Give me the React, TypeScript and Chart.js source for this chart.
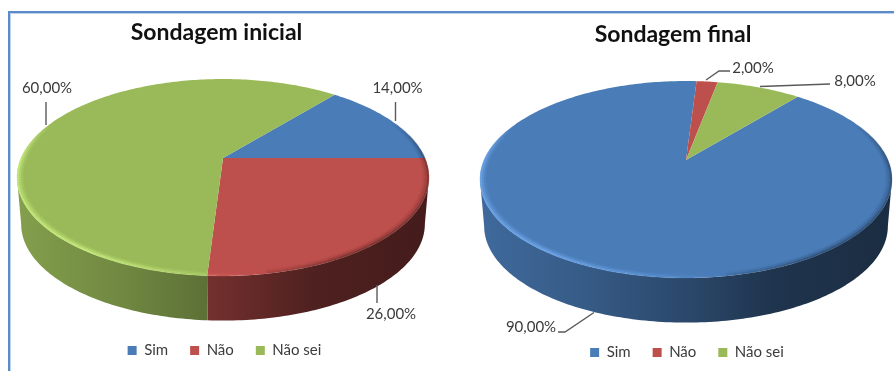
import React, { useEffect, useRef } from "react";
import { Chart, registerables } from "chart.js";

Chart.register(...registerables);

const categories = ["Sim", "Não", "Não sei"];
const initialValues = [14, 26, 60];
const finalValues = [90, 2, 8];
const sliceColors = ["#4a7cb8", "#bd4f4c", "#9aba59"];
const initialTitle = "Sondagem inicial";
const finalTitle = "Sondagem final";

type Callout = { text: [number, number]; line: [number, number][] };
type Layout3D = {
  cx: number;
  cy: number;
  a: number;
  b: number;
  k: number;
  depth: number;
  callouts: Callout[];
  titleShift: [number, number];
  legendShift: [number, number];
};

// Perspective tilt of the pie disc, measured in canvas pixels per chart.
const initialLayout: Layout3D = {
  cx: 223,
  cy: 158,
  a: 201.9,
  b: 94.6,
  k: -0.198,
  depth: 47,
  callouts: [
    { text: [397.5, 88], line: [[395.5, 121], [395.5, 102]] },
    { text: [391, 314], line: [[377, 285], [377, 303]] },
    { text: [47, 88], line: [[46, 125], [46, 102]] },
  ],
  titleShift: [-7, 0],
  legendShift: [1, -3],
};

const finalLayout: Layout3D = {
  cx: 239,
  cy: 160,
  a: 201.9,
  b: 94.6,
  k: -0.198,
  depth: 47,
  callouts: [
    { text: [84, 327], line: [[147, 312.5], [118, 332], [111, 332]] },
    { text: [306, 68], line: [[259, 80], [272, 71], [283, 71]] },
    { text: [408, 81], line: [[313, 86.5], [383, 84]] },
  ],
  titleShift: [2.5, 0],
  legendShift: [16.5, -1],
};

function shade(hex: string, f: number, lift = 0): string {
  const n = parseInt(hex.slice(1), 16);
  const ch = [(n >> 16) & 255, (n >> 8) & 255, n & 255].map((c) =>
    Math.min(255, Math.round(c * f + lift))
  );
  return `rgb(${ch[0]},${ch[1]},${ch[2]})`;
}

const clamp01 = (x: number) => Math.max(0, Math.min(1, x));

// Maps an angle on the pie circle to the tilted top face (or the lower rim).
function project(l: Layout3D, t: number, lower = false, r = 1): [number, number] {
  const u = Math.cos(t) * r;
  const v = Math.sin(t) * r;
  const w = 1 + l.k * v;
  const x = (l.a * u) / w;
  const y = (l.b * v) / w;
  if (!lower) return [l.cx + x, l.cy + y];
  return [l.cx + x * 0.98, l.cy + y * 0.98 + l.depth];
}

const pie3d = {
  id: "pie3d",
  afterLayout(chart: any, _args: any, opts: { layout: Layout3D }) {
    const { titleShift, legendShift } = opts.layout;
    chart.titleBlock.left += titleShift[0];
    chart.titleBlock.right += titleShift[0];
    chart.titleBlock.top += titleShift[1];
    chart.titleBlock.bottom += titleShift[1];
    chart.legend.left += legendShift[0];
    chart.legend.right += legendShift[0];
    chart.legend.top += legendShift[1];
    chart.legend.bottom += legendShift[1];
  },
  beforeDatasetsDraw(chart: any, _args: any, opts: { layout: Layout3D }) {
    const l = opts.layout;
    const ctx: CanvasRenderingContext2D = chart.ctx;
    const arcs = chart.getDatasetMeta(0).data;
    const dataset = chart.data.datasets[0];
    const step = Math.PI / 180;
    const visStart = Math.asin(-l.k);
    const visEnd = Math.PI - visStart;

    // Side wall, only where the disc edge faces the viewer.
    arcs.forEach((arc: any, i: number) => {
      const color = dataset.backgroundColor[i];
      for (const turn of [-2 * Math.PI, 0, 2 * Math.PI]) {
        const s = Math.max(arc.startAngle + turn, visStart);
        const e = Math.min(arc.endAngle + turn, visEnd);
        if (e <= s) continue;
        const g = ctx.createLinearGradient(l.cx - l.a, 0, l.cx + l.a, 0);
        g.addColorStop(0, shade(color, 0.85));
        g.addColorStop(0.25, shade(color, 0.73));
        g.addColorStop(0.5, shade(color, 0.58));
        g.addColorStop(0.72, shade(color, 0.42));
        g.addColorStop(1, shade(color, 0.36));
        ctx.beginPath();
        for (let t = s; t < e; t += step) ctx.lineTo(...project(l, t));
        ctx.lineTo(...project(l, e));
        for (let t = e; t > s; t -= step) ctx.lineTo(...project(l, t, true));
        ctx.lineTo(...project(l, s, true));
        ctx.closePath();
        ctx.fillStyle = g;
        ctx.fill();
      }
    });

    // Top face of every slice.
    arcs.forEach((arc: any, i: number) => {
      ctx.beginPath();
      ctx.moveTo(l.cx, l.cy);
      for (let t = arc.startAngle; t < arc.endAngle; t += step) ctx.lineTo(...project(l, t));
      ctx.lineTo(...project(l, arc.endAngle));
      ctx.closePath();
      ctx.fillStyle = dataset.backgroundColor[i];
      ctx.fill();
    });

    // Soft bevel along the rim: bright on the lower left, shaded on the right.
    const rings = [
      { r: 0.996, glow: 0.9, dim: 0.6 },
      { r: 0.986, glow: 0.5, dim: 0.28 },
      { r: 0.976, glow: 0.18, dim: 0.1 },
    ];
    ctx.save();
    arcs.forEach((arc: any, i: number) => {
      const color = dataset.backgroundColor[i];
      for (let t = arc.startAngle; t < arc.endAngle; t += step) {
        const deg = (((t * 180) / Math.PI) % 360 + 360) % 360;
        const glow = clamp01((deg - 80) / 45) * clamp01((203 - deg) / 25);
        const signed = deg > 300 ? deg - 360 : deg;
        const dim = clamp01((signed + 25) / 25) * clamp01((88 - signed) / 30);
        const next = Math.min(t + step, arc.endAngle);
        for (const ring of rings) {
          ctx.beginPath();
          ctx.moveTo(...project(l, t, false, ring.r));
          ctx.lineTo(...project(l, next, false, ring.r));
          ctx.lineWidth = 2.2;
          if (glow > 0) {
            ctx.strokeStyle = shade(color, 1.12, 28);
            ctx.globalAlpha = glow * ring.glow;
            ctx.stroke();
          } else if (dim > 0) {
            ctx.strokeStyle = shade(color, 0.5);
            ctx.globalAlpha = dim * ring.dim;
            ctx.stroke();
          }
        }
        ctx.globalAlpha = 1;
      }
    });
    ctx.restore();

    // Percentage callouts with their leader lines.
    ctx.save();
    ctx.font = "15px Lato";
    ctx.textAlign = "center";
    ctx.textBaseline = "middle";
    arcs.forEach((_arc: any, i: number) => {
      const c = l.callouts[i];
      ctx.beginPath();
      c.line.forEach((p) => ctx.lineTo(p[0], p[1]));
      ctx.strokeStyle = "#5a5a5a";
      ctx.lineWidth = 1.4;
      ctx.stroke();
      const label = dataset.data[i].toFixed(2).replace(".", ",") + "%";
      ctx.fillStyle = "#3a3a3a";
      ctx.fillText(label, c.text[0], c.text[1]);
    });
    ctx.restore();
    return false;
  },
};

function PieChart(props: { title: string; values: number[]; layout: Layout3D; left: number; titlePad: number }) {
  const ref = useRef<HTMLCanvasElement | null>(null);
  useEffect(() => {
    const chart = new Chart(ref.current as HTMLCanvasElement, {
      type: "pie",
      data: {
        labels: categories,
        datasets: [{ data: props.values, backgroundColor: sliceColors, borderWidth: 0 }],
      },
      options: {
        animation: false,
        responsive: false,
        rotation: 39.6,
        plugins: {
          title: {
            display: true,
            text: props.title,
            color: "#111111",
            font: { family: "Lato", size: 23, weight: "bold" },
            padding: { top: props.titlePad, bottom: 8 },
          },
          legend: {
            position: "bottom",
            labels: {
              boxWidth: 9,
              boxHeight: 9,
              padding: 22,
              color: "#3c3c3c",
              font: { family: "Lato", size: 15 },
            },
          },
          tooltip: { enabled: false },
          pie3d: { layout: props.layout },
        },
      } as any,
      plugins: [pie3d],
    });
    return () => chart.destroy();
  }, []);
  return (
    <canvas
      ref={ref}
      width={447}
      height={371}
      style={{ position: "absolute", left: props.left, top: 0, width: 447, height: 371 }}
    />
  );
}

export default function App() {
  useEffect(() => {
    document.body.style.margin = "0";
    document.body.style.overflow = "hidden";
  }, []);
  return (
    <div style={{ position: "relative", width: 894, height: 371, overflow: "hidden", background: "#fff" }}>
      <PieChart title={initialTitle} values={initialValues} layout={initialLayout} left={0} titlePad={19} />
      <PieChart title={finalTitle} values={finalValues} layout={finalLayout} left={447} titlePad={21} />
      <div
        style={{
          position: "absolute",
          left: 8,
          top: 11,
          width: 886,
          height: 360,
          borderTop: "2px solid #5b8cc8",
          borderLeft: "2px solid #5b8cc8",
          boxShadow: "inset 1px 1px 0 #bcd2ec",
          boxSizing: "border-box",
          pointerEvents: "none",
        }}
      />
    </div>
  );
}
